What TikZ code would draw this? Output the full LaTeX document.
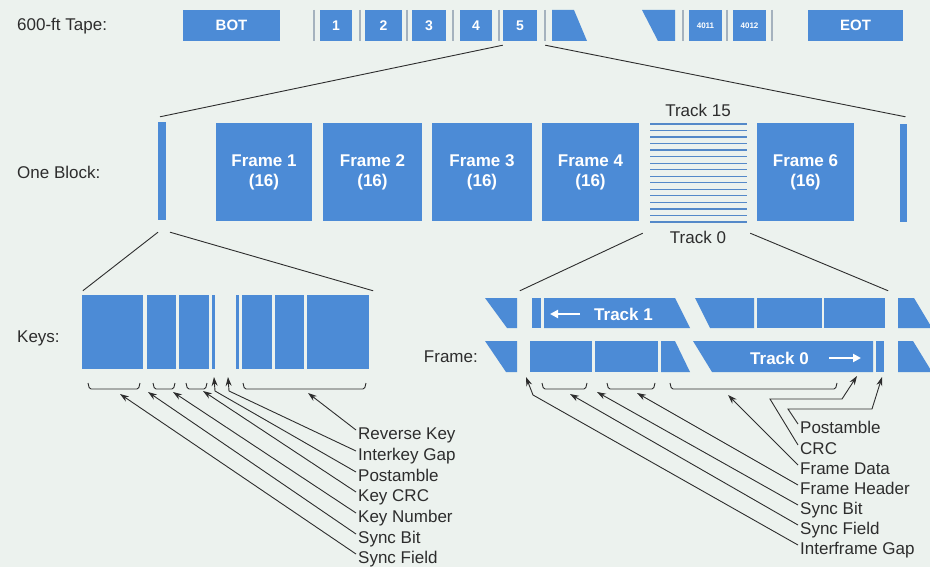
\documentclass[tikz,border=0pt]{standalone}
\usepackage{fontspec}
\setmainfont{Liberation Sans}
\usetikzlibrary{arrows.meta,positioning,calc}
\definecolor{tapeblue}{RGB}{76,139,214}
\definecolor{paper}{RGB}{236,242,238}
\definecolor{ink}{RGB}{45,45,45}
\definecolor{keyline}{RGB}{165,178,190}

\begin{document}
\begin{tikzpicture}[
    x=1pt,y=-1pt,
    blk/.style={fill=tapeblue,inner sep=0pt,text=white,font=\bfseries\fontsize{15}{17}\selectfont},
    lbl/.style={inner sep=0pt,text=ink,font=\fontsize{17}{20}\selectfont},
    wire/.style={draw=ink,line width=0.9pt},
    pointer/.style={wire,-{Stealth[length=9pt,width=6pt]}},
    brace/.style={draw=ink,line width=0.9pt,rounded corners=1.5pt},
    dirarrow/.style={draw=white,line width=2pt,-{Triangle[length=8pt,width=8pt]}},
    >=Stealth
]
\fill[paper] (0,0) rectangle (930,567);
\useasboundingbox (0,0) rectangle (930,567);

% tape
\node[lbl,anchor=west] (tapelbl) at (17,26) {600-ft Tape:};
\node[blk,minimum width=97,minimum height=31] (bot) at (231.5,25.5) {BOT};
\foreach \n/\cx/\w in {1/336/32,2/383.5/37,3/429/34,4/476/32,5/520/34}
  \node[blk,minimum width=\w,minimum height=31,font=\bfseries\fontsize{14}{16}\selectfont] (t\n) at (\cx,25.5) {\n};
\node[blk,minimum width=33,minimum height=31,font=\bfseries\fontsize{8}{9}\selectfont] (t4011) at (705.5,25.5) {4011};
\node[blk,minimum width=33,minimum height=31,font=\bfseries\fontsize{8}{9}\selectfont] (t4012) at (749.5,25.5) {4012};
\node[blk,minimum width=95,minimum height=31] (eot) at (855.5,25.5) {EOT};
\foreach \kx in {314,360,407,453,499,545,683,727,772}
  \draw[keyline,line width=1.2pt] (\kx,10) -- (\kx,41);
\fill[tapeblue] (552,10) -- (574,10) -- (587,41) -- (552,41) -- cycle;
\fill[tapeblue] (642,10) -- (675,10) -- (675,41) -- (658,41) -- cycle;

% one block
\node[lbl,anchor=west] (blocklbl) at (17,172) {One Block:};
\node[blk,minimum width=8,minimum height=98] (lkey) at (162,171) {};
\node[blk,minimum width=7,minimum height=98] (rkey) at (903.5,173) {};
\foreach \nm/\txt/\cx/\w in {f1/1/264/96,f2/2/372.5/99,f3/3/482/100,f4/4/590.5/97,f6/6/805.5/97}
  \node[blk,minimum width=\w,minimum height=98,align=center,font=\bfseries\fontsize{17}{20}\selectfont] (\nm) at (\cx,172) {Frame \txt\\(16)};
\node[inner sep=0pt,minimum width=97,minimum height=98] (strp) at (698.5,173) {};
\foreach \i in {0,...,15}
  \draw[tapeblue!85!gray,line width=1.3pt] (650,{124+\i*6.53}) -- (747,{124+\i*6.53});
\node[lbl] (tr15) at (698,110) {Track 15};
\node[lbl] (tr0) at (698,237) {Track 0};

\draw[wire] ($(t5.south west)+(0,4)$) -- ($(lkey.north)+(-2,-5)$);
\draw[wire] ($(t5.south east)+(8,4)$) -- ($(rkey.north)+(2,-7)$);

% keys
\node[lbl,anchor=west] (keyslbl) at (17,338) {Keys:};
\foreach \nm/\cx/\w in {k1/112.5/61,k2/161.5/29,k3/194/30,k4/213.5/3.5,k5/237.5/3.5,k6/257/30,k7/289.5/29,k8/338/62}
  \node[blk,minimum width=\w,minimum height=74] (\nm) at (\cx,332) {};
\draw[wire] ($(lkey.south)+(-4,12)$) -- ($(k1.north west)+(1,-4)$);
\draw[wire] ($(lkey.south)+(8,12)$) -- ($(k8.north east)+(4,-4)$);
\foreach \a/\b in {88/140,153/175,186/207,243/366}
  \draw[brace] (\a,383) -- (\a+1.5,389) -- (\b-1.5,389) -- (\b,383);

\foreach \nm/\txt/\ly/\tx/\ty in {krk/Reverse Key/439/308/393,kcrc/Key CRC/501/203/391,kkn/Key Number/522/173/392,ksb/Sync Bit/543/148/392,ksf/Sync Field/563/120/394}{
  \node[lbl,anchor=base west] (\nm) at (358,\ly) {\txt};
  \coordinate (\nm-tip) at (\tx,\ty);
  \draw[pointer] ($(\nm.base west)+(-2,-9)$) -- (\nm-tip);
}
\node[lbl,anchor=base west] (kig) at (358,460) {Interkey Gap};
\node[lbl,anchor=base west] (kpa) at (358,481) {Postamble};
\coordinate (kig-tip) at (228,377);
\coordinate (kpa-tip) at (214,377);
\draw[pointer] ($(kig.base west)+(-2,-9)$) -- (229,391) -- (kig-tip);
\draw[pointer] ($(kpa.base west)+(-2,-9)$) -- (215,391) -- (kpa-tip);

% frame
\node[lbl,anchor=east] (framelbl) at (478,357) {Frame:};
% track 1
\fill[tapeblue] (485,298) -- (517,298) -- (517,328) -- (507,328) -- cycle;
\node[blk,minimum width=9,minimum height=30] (f1bar) at (536.5,313) {};
\fill[tapeblue] (544,298) -- (675,298) -- (690,328) -- (544,328) -- cycle;
\fill[tapeblue] (695,298) -- (754,298) -- (754,328) -- (710,328) -- cycle;
\node[blk,minimum width=65,minimum height=30] (f1b) at (789.5,313) {};
\node[blk,minimum width=61,minimum height=30] (f1c) at (854.5,313) {};
\fill[tapeblue] (898,298) -- (914,298) -- (932,328) -- (898,328) -- cycle;
\node[blk,anchor=west,fill=none,font=\bfseries\fontsize{17}{20}\selectfont] (trk1) at (594,314) {Track 1};
\draw[dirarrow] ($(trk1.west)+(-14,0)$) -- ($(trk1.west)+(-44,0)$);
% track 0
\fill[tapeblue] (485,341) -- (517,341) -- (517,372) -- (506,372) -- cycle;
\node[blk,minimum width=62,minimum height=31] (f0a) at (561,356.5) {};
\node[blk,minimum width=63,minimum height=31] (f0b) at (626.5,356.5) {};
\fill[tapeblue] (661,341) -- (675,341) -- (690,372) -- (661,372) -- cycle;
\fill[tapeblue] (693,341) -- (873,341) -- (873,372) -- (712,372) -- cycle;
\node[blk,minimum width=8,minimum height=31] (f0bar) at (879.5,356.5) {};
\fill[tapeblue] (898,341) -- (913,341) -- (932,372) -- (898,372) -- cycle;
\node[blk,anchor=west,fill=none,font=\bfseries\fontsize{17}{20}\selectfont] (trk0) at (750,358) {Track 0};
\draw[dirarrow] ($(trk0.east)+(20,0)$) -- ($(trk0.east)+(52,0)$);

\draw[wire] ($(strp.south west)+(-7,11)$) -- ($(f1bar.north west)+(-12,-7)$);
\draw[wire] ($(strp.south east)+(3,11)$) -- ($(f1c.north east)+(3,-7)$);
\foreach \a/\b in {542/587,607/655,670/837}
  \draw[brace] (\a,383) -- (\a+1.5,389) -- (\b-1.5,389) -- (\b,383);

\foreach \nm/\txt/\ly/\tx/\ty in {ffd/Frame Data/474/728/395,ffh/Frame Header/494/637/393,fsb/Sync Bit/514/597/392,fsf/Sync Field/534/570/394}{
  \node[lbl,anchor=base west] (\nm) at (800,\ly) {\txt};
  \coordinate (\nm-tip) at (\tx,\ty);
  \draw[pointer] ($(\nm.base west)+(-2,-9)$) -- (\nm-tip);
}
\node[lbl,anchor=base west] (fpa) at (800,433) {Postamble};
\node[lbl,anchor=base west] (fcrc) at (800,454) {CRC};
\node[lbl,anchor=base west] (fig) at (800,554) {Interframe Gap};
\coordinate (fpa-tip) at (882,377);
\coordinate (fcrc-tip) at (857,376);
\coordinate (fig-tip) at (526,377);
\draw[pointer] ($(fpa.base west)+(-2,-9)$) -- (788,409) -- (872,409) -- (fpa-tip);
\draw[pointer] ($(fcrc.base west)+(-2,-9)$) -- (770,399) -- (842,399) -- (fcrc-tip);
\draw[pointer] ($(fig.base west)+(-2,-9)$) -- (533,395) -- (fig-tip);
\end{tikzpicture}
\end{document}
